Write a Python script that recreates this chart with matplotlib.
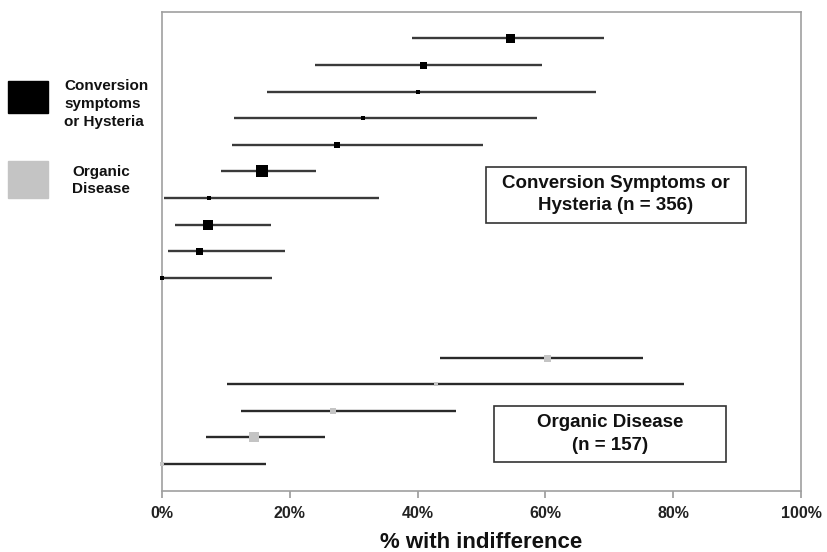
import matplotlib
matplotlib.use("Agg")
import matplotlib.pyplot as plt
from matplotlib.patches import Rectangle

plt.rcParams['font.family'] = ['Liberation Sans', 'DejaVu Sans']
plt.rcParams['font.weight'] = 'bold'

# conversion symptoms / hysteria studies (top to bottom), values in %
conv_est = [54.5, 40.8, 40.1, 31.4, 27.4, 15.7, 7.3, 7.2, 5.8, 0.0]
conv_lo = [39.2, 23.9, 16.5, 11.2, 10.9, 9.3, 0.3, 2.1, 0.9, 0.1]
conv_hi = [69.2, 59.5, 67.9, 58.7, 50.3, 24.1, 34.0, 17.1, 19.3, 17.2]
conv_size = [9, 7, 5, 5, 6.5, 12, 5, 9.5, 7, 5]

# organic disease studies
org_est = [60.2, 42.9, 26.7, 14.4, 0.0]
org_lo = [43.5, 10.1, 12.4, 6.9, 0.0]
org_hi = [75.2, 81.7, 46.0, 25.5, 16.3]
org_size = [7, 4, 6, 10, 5]

conv_rows = list(range(1, 11))
org_rows = list(range(13, 18))

xticks = [0, 20, 40, 60, 80, 100]
xticklabels = ['0%', '20%', '40%', '60%', '80%', '100%']

fig = plt.figure(figsize=(8.28, 5.52), dpi=100)
ax = fig.add_axes([162 / 828, 1 - 490.5 / 552, 639 / 828, 478.5 / 552])

px = 0.72  # points per pixel
for y, e, lo, hi, s in zip(conv_rows, conv_est, conv_lo, conv_hi, conv_size):
    ax.plot([lo, hi], [y, y], color='#3a3a3a', lw=1.7, solid_capstyle='butt', zorder=2)
    ax.plot(e, y, marker='s', ms=s * px, color='black', mew=0, zorder=3, clip_on=False)

for y, e, lo, hi, s in zip(org_rows, org_est, org_lo, org_hi, org_size):
    ax.plot([lo, hi], [y, y], color='#2a2a2a', lw=1.7, solid_capstyle='butt', zorder=2)
    ax.plot(e, y, marker='s', ms=s * px, color='#c4c4c4', mew=0, zorder=3, clip_on=False)

ax.set_xlim(0, 100)
ax.set_ylim(18.0, 0.01)
ax.set_yticks([])
ax.set_xticks(xticks)
ax.set_xticklabels(xticklabels, fontsize=11.5, fontweight='bold', color='#222222')
ax.tick_params(axis='x', length=5, color='#9a9a9a', width=1.2, pad=6)
for sp in ax.spines.values():
    sp.set_color('#a0a0a0')
    sp.set_linewidth(1.2)
ax.set_xlabel('% with indifference', fontsize=16, fontweight='bold', labelpad=8, color='#111111')

# group label boxes
W, H = 828, 552
fig.patches.append(Rectangle((486 / W, 1 - 222.7 / H), 260 / W, 55.4 / H,
                             transform=fig.transFigure, fill=False, ec='#333333', lw=1.2))
fig.text(616 / W, 1 - 194.5 / H, 'Conversion Symptoms or\nHysteria (n = 356)',
         ha='center', va='center', fontsize=13.5, fontweight='bold', linespacing=1.45,
         color='#111111')
fig.patches.append(Rectangle((494 / W, 1 - 461.7 / H), 232 / W, 55.7 / H,
                             transform=fig.transFigure, fill=False, ec='#333333', lw=1.2))
fig.text(610 / W, 1 - 434 / H, 'Organic Disease\n(n = 157)',
         ha='center', va='center', fontsize=13.5, fontweight='bold', linespacing=1.4,
         color='#111111')

# legend on the left
fig.patches.append(Rectangle((8 / W, 1 - 113.3 / H), 39.7 / W, 32.6 / H,
                             transform=fig.transFigure, color='black'))
fig.text(64 / W, 1 - 104 / H, 'Conversion\nsymptoms\nor Hysteria',
         ha='left', va='center', fontsize=11, fontweight='bold', linespacing=1.35,
         color='#111111')
fig.patches.append(Rectangle((8 / W, 1 - 197.7 / H), 39.7 / W, 36.7 / H,
                             transform=fig.transFigure, color='#c4c4c4'))
fig.text(101 / W, 1 - 180.5 / H, 'Organic\nDisease',
         ha='center', va='center', fontsize=11, fontweight='bold', linespacing=1.3,
         color='#111111')

fig.savefig('out.png', dpi=100)
